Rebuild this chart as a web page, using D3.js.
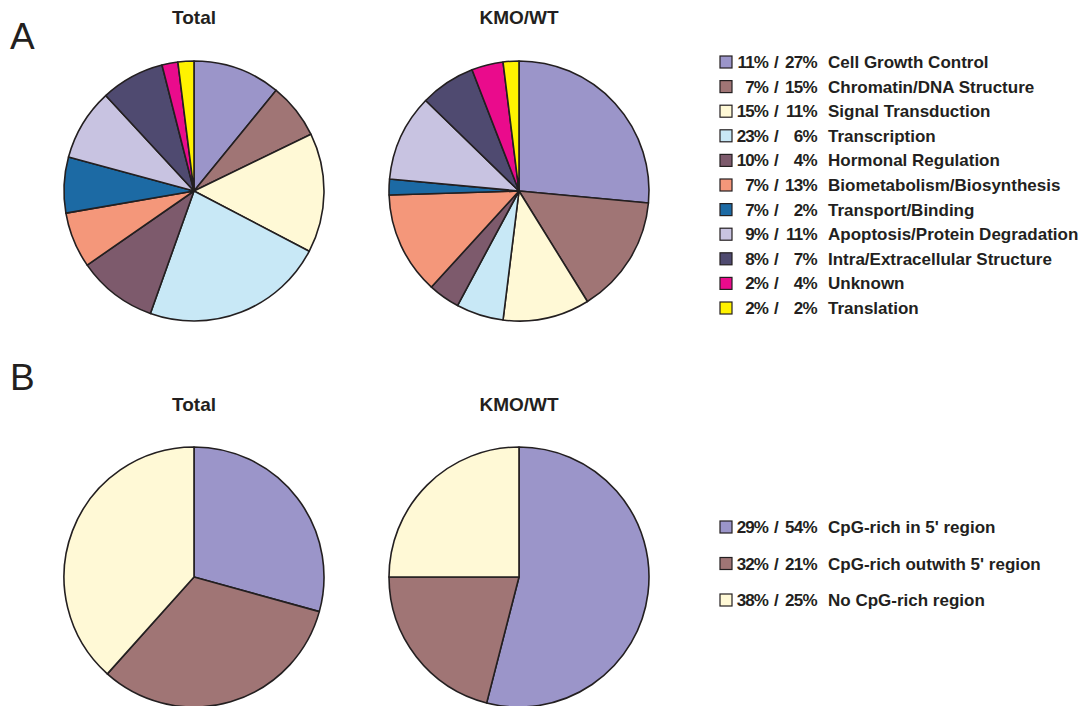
<!DOCTYPE html>
<html>
<head>
<meta charset="utf-8">
<script src="https://cdn.jsdelivr.net/npm/d3@7"></script>
<style>
body { margin: 0; background: #fff; }
text { font-family: "Liberation Sans", Arial, sans-serif; fill: #231f20; }
</style>
</head>
<body>
<script>
// panel A: functional categories
var catA = ["Cell Growth Control", "Chromatin/DNA Structure", "Signal Transduction", "Transcription",
    "Hormonal Regulation", "Biometabolism/Biosynthesis", "Transport/Binding",
    "Apoptosis/Protein Degradation", "Intra/Extracellular Structure", "Unknown", "Translation"];
var totalA = [11, 7, 15, 23, 10, 7, 7, 9, 8, 2, 2];
var kmoA = [27, 15, 11, 6, 4, 13, 2, 11, 7, 4, 2];
var colorsA = ["#9b95c9", "#a07575", "#fff9d6", "#c8e8f6", "#7d5a6c", "#f4977a",
    "#1c6aa4", "#c8c3e1", "#4f4a70", "#ea0b8c", "#fff200"];

// panel B: CpG regions
var catB = ["CpG-rich in 5' region", "CpG-rich outwith 5' region", "No CpG-rich region"];
var totalB = [29, 32, 38];
var kmoB = [54, 21, 25];
var colorsB = ["#9b95c9", "#a07575", "#fff9d6"];

var width = 1090, height = 706;
var r = 130;

var svg = d3.select("body").append("svg")
    .attr("width", width)
    .attr("height", height);

var pie = d3.pie().sort(null);
var arc = d3.arc().innerRadius(0).outerRadius(r);

function drawPie(cx, cy, values, colors, title, titleY) {
    var g = svg.append("g").attr("transform", "translate(" + cx + "," + cy + ")");
    g.selectAll("path")
        .data(pie(values))
        .enter()
        .append("path")
        .attr("d", arc)
        .attr("fill", function(d, i) { return colors[i]; })
        .attr("stroke", "#231f20")
        .attr("stroke-width", 1.6)
        .attr("stroke-linejoin", "round");
    svg.append("text")
        .attr("x", cx)
        .attr("y", titleY)
        .attr("text-anchor", "middle")
        .style("font-size", "19px")
        .style("font-weight", "bold")
        .text(title);
}

drawPie(194, 191, totalA, colorsA, "Total", 24);
drawPie(519, 191, kmoA, colorsA, "KMO/WT", 24);
drawPie(194, 577, totalB, colorsB, "Total", 411);
drawPie(519, 577, kmoB, colorsB, "KMO/WT", 411);

// panel letters
svg.append("text").attr("x", 10).attr("y", 49).style("font-size", "37px").text("A");
svg.append("text").attr("x", 10).attr("y", 390).style("font-size", "37px").text("B");

function drawLegend(cats, a, b, colors, y0, step) {
    var y = d3.scaleLinear().domain([0, 1]).range([y0, y0 + step]);
    var row = svg.append("g").selectAll("g")
        .data(cats)
        .enter()
        .append("g")
        .attr("transform", function(d, i) { return "translate(0," + y(i) + ")"; });
    row.append("rect")
        .attr("x", 720).attr("y", -6)
        .attr("width", 12).attr("height", 12)
        .attr("fill", function(d, i) { return colors[i]; })
        .attr("stroke", "#231f20")
        .attr("stroke-width", 1.2);
    var t = function(sel) {
        return sel.append("text")
            .attr("y", 6)
            .style("font-size", "17px")
            .style("font-weight", "bold");
    };
    t(row).attr("x", 768).attr("text-anchor", "end").style("letter-spacing", "-0.9px")
        .text(function(d, i) { return a[i] + "%"; });
    t(row).attr("x", 774).text("/");
    t(row).attr("x", 817).attr("text-anchor", "end").style("letter-spacing", "-0.7px")
        .text(function(d, i) { return b[i] + "%"; });
    t(row).attr("x", 828).text(function(d) { return d; });
}

drawLegend(catA, totalA, kmoA, colorsA, 62, 24.6);
drawLegend(catB, totalB, kmoB, colorsB, 527, 36.5);
</script>
</body>
</html>
